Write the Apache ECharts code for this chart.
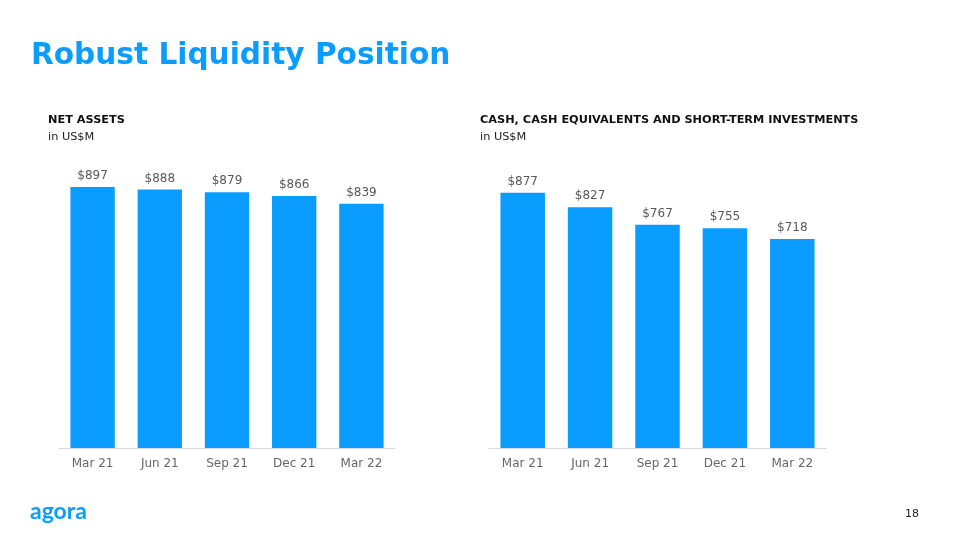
<!DOCTYPE html>
<html><head><meta charset="utf-8">
<script src="https://cdn.jsdelivr.net/npm/echarts@6/dist/echarts.min.js"></script>
<style>html,body{margin:0;padding:0;background:#fff}#c{width:960px;height:540px}</style>
</head><body><div id="c"></div>
<script>
const categories = ['Mar 21','Jun 21','Sep 21','Dec 21','Mar 22'];
const netAssets = [897, 888, 879, 866, 839];
const cashInvestments = [877, 827, 767, 755, 718];
const title = 'Robust Liquidity Position';
const leftTitle = 'NET ASSETS';
const rightTitle = 'CASH, CASH EQUIVALENTS AND SHORT-TERM INVESTMENTS';
const unit = 'in US$M';

const FONT = 'DejaVu Sans, Verdana, sans-serif';
const BLUE = '#0A9DFF';
const chart = echarts.init(document.getElementById('c'));
function xAxis(i){return {type:'category',gridIndex:i,data:categories,
  axisLine:{lineStyle:{color:'#d9d9d9',width:1}},axisTick:{show:false},
  axisLabel:{color:'#666',fontFamily:FONT,fontSize:12,margin:10}};}
function yAxis(i){return {type:'value',gridIndex:i,min:0,max:1000,show:false,splitLine:{show:false}};}
function series(i,data){return {type:'bar',xAxisIndex:i,yAxisIndex:i,data:data,barWidth:'66%',
  itemStyle:{color:BLUE},
  label:{show:true,position:'top',distance:5,color:'#595959',fontFamily:FONT,fontSize:12,formatter:p=>'$'+p.value}};}
chart.setOption({
  animation:false,
  grid:[{left:59,width:336,top:157,bottom:92},{left:489,width:337,top:157,bottom:92}],
  xAxis:[xAxis(0),xAxis(1)],
  yAxis:[yAxis(0),yAxis(1)],
  series:[series(0,netAssets),series(1,cashInvestments)],
  graphic:[
    {type:'text',left:31,top:41,style:{text:title,fill:BLUE,font:'bold 29.6px '+FONT}},
    {type:'text',left:48,top:115,style:{text:leftTitle,fill:'#111',font:'bold 11.3px '+FONT}},
    {type:'text',left:48,top:132,style:{text:unit,fill:'#222',font:'11.3px '+FONT}},
    {type:'text',left:480,top:115,style:{text:rightTitle,fill:'#111',font:'bold 11.3px '+FONT}},
    {type:'text',left:480,top:132,style:{text:unit,fill:'#222',font:'11.3px '+FONT}},
    {type:'text',left:30,top:500,style:{text:'agora',fill:BLUE,font:'bold 23px Lato, '+FONT}},
    {type:'text',right:41,top:509,style:{text:'18',fill:'#222',font:'11px '+FONT}}
  ]
});
</script></body></html>
